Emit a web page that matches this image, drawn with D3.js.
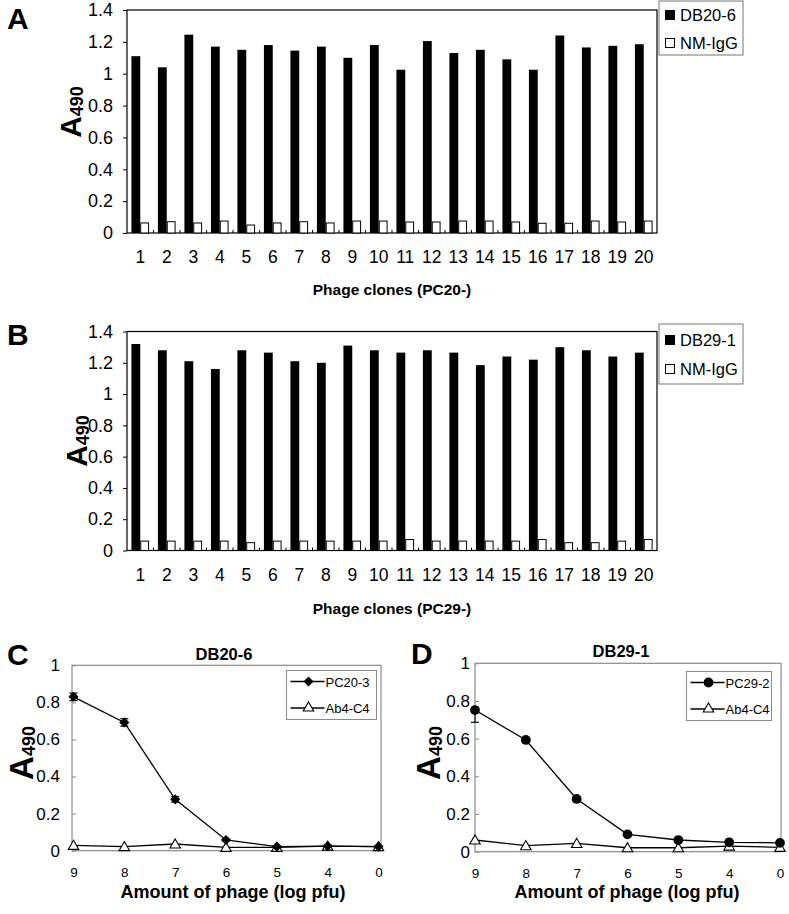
<!DOCTYPE html>
<html><head><meta charset="utf-8">
<script src="https://cdn.jsdelivr.net/npm/d3@7"></script>
<style>
body{margin:0;background:#fff}
text{font-family:"Liberation Sans",Arial,sans-serif}
</style>
</head><body>
<svg id="c" width="789" height="914"></svg>
<script>
// ---------- data ----------
const clones = ["1","2","3","4","5","6","7","8","9","10","11","12","13","14","15","16","17","18","19","20"];
const db20_6  = [1.11,1.04,1.245,1.17,1.15,1.18,1.145,1.17,1.10,1.18,1.025,1.205,1.13,1.15,1.09,1.025,1.24,1.165,1.175,1.185];
const nmIgG_A = [0.063,0.071,0.063,0.075,0.05,0.063,0.071,0.063,0.075,0.075,0.069,0.069,0.075,0.075,0.069,0.061,0.061,0.075,0.069,0.075];
const db29_1  = [1.32,1.28,1.21,1.16,1.28,1.265,1.21,1.20,1.31,1.28,1.265,1.28,1.265,1.185,1.24,1.22,1.30,1.28,1.24,1.265];
const nmIgG_B = [0.06,0.06,0.06,0.06,0.05,0.06,0.06,0.06,0.06,0.06,0.07,0.06,0.06,0.06,0.06,0.07,0.05,0.05,0.06,0.07];
const barTicks = [0,0.2,0.4,0.6,0.8,1,1.2,1.4];

const phageLog = ["9","8","7","6","5","4","0"];
const pc20_3     = [0.83,0.692,0.277,0.058,0.022,0.025,0.022];
const pc20_3Err  = [0.02,0.02,0.015,0.005,0.005,0.005,0.005];
const ab4C4_C    = [0.029,0.022,0.036,0.018,0.018,0.025,0.022];
const pc29_2     = [0.752,0.593,0.28,0.092,0.062,0.05,0.047];
const pc29_2ErrLo= [0.065,0.005,0.01,0.005,0.005,0.005,0.01];
const pc29_2ErrHi= [0.01,0.005,0.01,0.005,0.005,0.005,0.01];
const ab4C4_D    = [0.062,0.032,0.044,0.021,0.021,0.03,0.023];
const lineTicks = [0,0.2,0.4,0.6,0.8,1];

const svg = d3.select("#c");
const fmt = d3.format("~g");

function yTitle(x, y, bigSize, subSize) {
  const t = svg.append("text")
    .attr("transform", `translate(${x},${y}) rotate(-90)`)
    .attr("text-anchor", "middle").attr("font-weight", "bold");
  t.append("tspan").attr("font-size", bigSize).text("A");
  t.append("tspan").attr("font-size", subSize).attr("dy", 2).text("490");
}

function letter(x, y, s) {
  svg.append("text").attr("x", x).attr("y", y).attr("font-size", 30)
    .attr("font-weight", "bold").text(s);
}

// ---------- bar panels ----------
function barPanel(o) {
  const g = svg.append("g");
  const x = d3.scaleBand().domain(clones).range([o.x0, o.x1]);
  const y = d3.scaleLinear().domain([0, 1.4]).range([o.yb, o.yt]);
  const bw = x.bandwidth() / 3;

  g.append("rect").attr("x", o.x0).attr("y", o.yt).attr("width", o.x1 - o.x0)
    .attr("height", o.yb - o.yt).attr("fill", "none").attr("stroke", "#000").attr("stroke-width", 1.2);

  g.selectAll(".b1").data(o.s1).join("rect")
    .attr("x", (d, i) => x(clones[i]) + bw / 2).attr("y", d => y(d))
    .attr("width", bw).attr("height", d => y(0) - y(d)).attr("fill", "#000");
  g.selectAll(".b2").data(o.s2).join("rect")
    .attr("x", (d, i) => x(clones[i]) + bw * 1.5 + 0.5).attr("y", d => y(d))
    .attr("width", bw - 1).attr("height", d => y(0) - y(d))
    .attr("fill", "#fff").attr("stroke", "#000").attr("stroke-width", 1);

  // minor ticks at category boundaries
  g.selectAll(".mt").data(clones.slice(1)).join("line")
    .attr("x1", d => x(d)).attr("x2", d => x(d))
    .attr("y1", o.yb).attr("y2", o.yb - 3).attr("stroke", "#000").attr("stroke-width", 1);

  const ya = g.append("g").attr("transform", `translate(${o.x0},0)`)
    .call(d3.axisLeft(y).tickValues(barTicks).tickFormat(fmt).tickSize(4).tickPadding(10));
  ya.select(".domain").remove();
  ya.selectAll("text").attr("font-size", 18).attr("fill", "#000").attr("font-family", null);
  ya.selectAll("line").attr("stroke", "#000");

  const xa = g.append("g").attr("transform", `translate(0,${o.yb})`)
    .call(d3.axisBottom(x).tickSize(0));
  xa.select(".domain").remove();
  xa.selectAll("text").attr("y", o.xlab - o.yb).attr("dy", null)
    .attr("font-size", 17.5).attr("fill", "#000").attr("font-family", null);

  svg.append("text").attr("x", (o.x0 + o.x1) / 2).attr("y", o.xtitle)
    .attr("text-anchor", "middle").attr("font-weight", "bold").attr("font-size", 15.5).text(o.title);

  // legend
  const L = svg.append("g");
  L.append("rect").attr("x", 659).attr("y", o.legY).attr("width", 84).attr("height", o.legH)
    .attr("fill", "#fff").attr("stroke", "#777");
  const items = [{n: o.n1, f: "#000"}, {n: "NM-IgG", f: "#fff"}];
  items.forEach((it, i) => {
    const cy = o.legY + o.legRow[i];
    L.append("rect").attr("x", 665.5).attr("y", cy - 4.5).attr("width", 9).attr("height", 9)
      .attr("fill", it.f).attr("stroke", "#000");
    L.append("text").attr("x", 680).attr("y", cy + 6).attr("font-size", 16.5).text(it.n);
  });
}

barPanel({x0: 127, x1: 657, yt: 10, yb: 233, s1: db20_6, s2: nmIgG_A, xlab: 263, xtitle: 295,
  title: "Phage clones (PC20-)", n1: "DB20-6", legY: 1, legH: 54, legRow: [14, 42]});
barPanel({x0: 127, x1: 657, yt: 331.5, yb: 550.5, s1: db29_1, s2: nmIgG_B, xlab: 581, xtitle: 614,
  title: "Phage clones (PC29-)", n1: "DB29-1", legY: 324, legH: 60, legRow: [16, 45]});

letter(7, 29, "A");
letter(7, 345, "B");
yTitle(81, 112, 30, 18);
yTitle(87, 441, 30, 18);

// ---------- line panels ----------
const diamond = d3.symbol().type(d3.symbolDiamond2).size(65);
const circle = d3.symbol().type(d3.symbolCircle).size(75);
const tri = d3.symbol().type(d3.symbolTriangle).size(48);

function linePanel(o) {
  const g = svg.append("g");
  const x = d3.scalePoint().domain(phageLog).range([o.px0, o.px1]);
  const y = d3.scaleLinear().domain([0, 1]).range([o.yb, o.yt]);

  g.append("rect").attr("x", o.x0).attr("y", o.yt).attr("width", o.x1 - o.x0)
    .attr("height", o.yb - o.yt).attr("fill", "none").attr("stroke", "#8a8a8a").attr("stroke-width", 1.2);

  const ya = g.append("g").attr("transform", `translate(${o.x0},0)`)
    .call(d3.axisLeft(y).tickValues(lineTicks).tickFormat(fmt).tickSize(-4).tickPadding(o.tickPad));
  ya.select(".domain").remove();
  ya.selectAll("line").attr("stroke", "#8a8a8a");
  ya.selectAll("text").attr("font-size", 17).attr("fill", "#000").attr("font-family", null);

  const xa = g.append("g").attr("transform", `translate(0,${o.yb})`)
    .call(d3.axisBottom(x).tickSize(0));
  xa.select(".domain").remove();
  xa.selectAll("text").attr("y", 26).attr("dy", null).attr("font-size", 13.5)
    .attr("fill", "#000").attr("font-family", null);

  const line = d3.line().x((d, i) => x(phageLog[i])).y(d => y(d));
  g.append("path").attr("d", line(o.ctrl)).attr("fill", "none").attr("stroke", "#000").attr("stroke-width", 1.3);
  g.append("path").attr("d", line(o.main)).attr("fill", "none").attr("stroke", "#000").attr("stroke-width", 1.3);

  // error bars on main series
  o.main.forEach((v, i) => {
    const cx = x(phageLog[i]);
    const lo = y(v - o.errLo[i]), hi = y(v + o.errHi[i]);
    g.append("line").attr("x1", cx).attr("x2", cx).attr("y1", lo).attr("y2", hi).attr("stroke", "#000");
    g.append("line").attr("x1", cx - 4).attr("x2", cx + 4).attr("y1", lo).attr("y2", lo).attr("stroke", "#000").attr("stroke-width", 1.2);
    g.append("line").attr("x1", cx - 4).attr("x2", cx + 4).attr("y1", hi).attr("y2", hi).attr("stroke", "#000").attr("stroke-width", 1.2);
  });

  g.selectAll(".ct").data(o.ctrl).join("path")
    .attr("transform", (d, i) => `translate(${x(phageLog[i])},${y(d) + 1})`)
    .attr("d", tri).attr("fill", "#fff").attr("stroke", "#000").attr("stroke-width", 1.1);
  g.selectAll(".mk").data(o.main).join("path")
    .attr("transform", (d, i) => `translate(${x(phageLog[i])},${y(d)})`)
    .attr("d", o.sym).attr("fill", "#000");

  // titles
  svg.append("text").attr("x", o.titleX).attr("y", o.titleY).attr("text-anchor", "middle")
    .attr("font-weight", "bold").attr("font-size", 16.5).text(o.title);
  svg.append("text").attr("x", o.xtX).attr("y", 898).attr("text-anchor", "middle")
    .attr("font-weight", "bold").attr("font-size", 18).text("Amount of phage (log pfu)");

  // legend
  const L = svg.append("g");
  L.append("rect").attr("x", o.lx).attr("y", o.ly).attr("width", o.lw).attr("height", 49)
    .attr("fill", "#fff").attr("stroke", "#8a8a8a");
  const rows = [{n: o.n1, s: o.sym, f: "#000"}, {n: "Ab4-C4", s: tri, f: "#fff"}];
  rows.forEach((r, i) => {
    const cy = o.ly + 11 + i * 26.5;
    L.append("line").attr("x1", o.lx + 4).attr("x2", o.lx + 38).attr("y1", cy).attr("y2", cy)
      .attr("stroke", "#000").attr("stroke-width", 1.3);
    L.append("path").attr("transform", `translate(${o.lx + 22},${cy})`)
      .attr("d", r.s).attr("fill", r.f).attr("stroke", i ? "#000" : "none").attr("stroke-width", 1.1);
    L.append("text").attr("x", o.lx + 39).attr("y", cy + 5).attr("font-size", 13).text(r.n);
  });
}

linePanel({x0: 72, x1: 381, px0: 73.5, px1: 378.5, yt: 665.3, yb: 850.7,
  main: pc20_3, errLo: pc20_3Err, errHi: pc20_3Err, ctrl: ab4C4_C, sym: diamond, n1: "PC20-3",
  title: "DB20-6", titleX: 224, titleY: 660, xtX: 233, tickPad: 12,
  lx: 286.5, ly: 670.5, lw: 90});
linePanel({x0: 475, x1: 781, px0: 475, px1: 780, yt: 663.3, yb: 851.7,
  main: pc29_2, errLo: pc29_2ErrLo, errHi: pc29_2ErrHi, ctrl: ab4C4_D, sym: circle, n1: "PC29-2",
  title: "DB29-1", titleX: 621, titleY: 657, xtX: 627, tickPad: 5,
  lx: 686.5, ly: 671.5, lw: 85});

letter(7, 665, "C");
letter(411, 664, "D");
yTitle(33, 753, 33, 18);
yTitle(440, 753, 33, 18);
</script>
</body></html>
